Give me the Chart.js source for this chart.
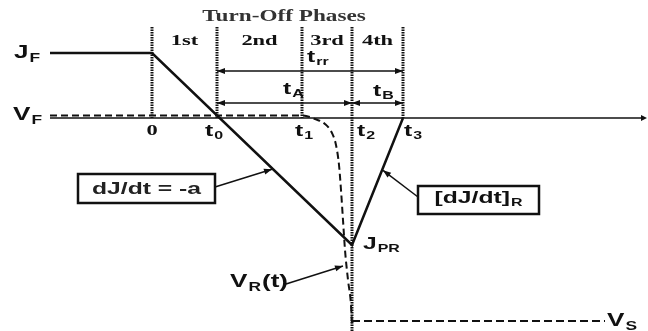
<!DOCTYPE html>
<html>
<head>
<meta charset="utf-8">
<script src="https://cdn.jsdelivr.net/npm/chart.js@4/dist/chart.umd.min.js"></script>
<style>
  html, body { margin: 0; padding: 0; background: #fff; }
  #wrap { width: 648px; height: 331px; }
</style>
</head>
<body>
<div id="wrap"><canvas id="turnOff" width="648" height="331"></canvas></div>
<script>
// time instants (arbitrary units, 0 = start of turn-off)
const markTimes = [0, 6.5, 15, 20, 25.1];
const markNames = ["0", "t0", "t1", "t2", "t3"];
const phaseNames = ["1st", "2nd", "3rd", "4th"];

// diode current J(t)
const currentTime = [-10.2, 0, 20, 25.1];
const currentValue = [6.5, 6.5, -12.7, 0];

// diode voltage: forward drop, then reverse swing
const voltageTime = [-10.2, 15, 16.3, 17.3, 18, 18.4, 18.7, 18.9, 19.1, 19.3, 19.6, 19.9, 20];
const voltageValue = [0.25, 0.25, -0.1, -0.6, -1.5, -2.7, -4.7, -7.2, -10.2, -13.2, -16.2, -18.7, -20.7];

// supply voltage once recovered
const supplyTime = [20, 45.3];
const supplyValue = [-20.3, -20.3];

const axisEnd = 49.3;
const guideTop = 9.1;
const trrLevel = 4.7;
const tabLevel = 1.5;

const INK = "#111";
const SX = 1.45; // lettering is drawn a bit wide
const SANS = '"Liberation Sans", Arial, sans-serif';
const SERIF = '"Liberation Serif", "Times New Roman", serif';

const toPoints = (xs, ys) => xs.map((x, i) => ({ x: x, y: ys[i] }));

function line(points, width, dash) {
  return {
    data: points,
    showLine: true,
    borderColor: INK,
    borderWidth: width,
    borderDash: dash || [],
    pointRadius: 0,
    fill: false,
    clip: false,
  };
}

const guides = markTimes.map((t, i) =>
  line([{ x: t, y: guideTop }, { x: t, y: i === 3 ? -21.3 : 0 }], 3, [1.5, 1])
);

const voltage = line(toPoints(voltageTime, voltageValue), 2, [7, 4]);
voltage.cubicInterpolationMode = "monotone";

const datasets = [
  line(toPoints(currentTime, currentValue), 2.5),
  voltage,
  line(toPoints(supplyTime, supplyValue), 2, [8, 4]),
  line([{ x: currentTime[0], y: 0 }, { x: axisEnd, y: 0 }], 1.5),
  ...guides,
];

function text(ctx, str, x, y, font, align, color) {
  ctx.save();
  ctx.font = font;
  const w = ctx.measureText(str).width * SX;
  const left = align === "center" ? x - w / 2 : align === "right" ? x - w : x;
  ctx.translate(left, y);
  ctx.scale(SX, 1);
  ctx.fillStyle = color || INK;
  ctx.textAlign = "left";
  ctx.textBaseline = "middle";
  ctx.fillText(str, 0, 0);
  ctx.restore();
  return w;
}

// main letter(s) with a subscript, optional trailing text
function subText(ctx, main, sub, x, y, size, align, tail) {
  const mainFont = `bold ${size}px ${SANS}`;
  const subFont = `bold ${Math.round(size * 0.66)}px ${SANS}`;
  ctx.font = mainFont;
  const wm = ctx.measureText(main).width * SX;
  const wt = tail ? ctx.measureText(tail).width * SX : 0;
  ctx.font = subFont;
  const ws = ctx.measureText(sub).width * SX;
  const total = wm + ws + wt + 1;
  const left = align === "center" ? x - total / 2 : x;
  text(ctx, main, left, y, mainFont, "left");
  text(ctx, sub, left + wm + 1, y + size * 0.3, subFont, "left");
  if (tail) text(ctx, tail, left + wm + ws + 2, y, mainFont, "left");
}

function arrowHead(ctx, x1, y1, x2, y2, len, half) {
  const a = Math.atan2(y2 - y1, x2 - x1);
  const c = Math.cos(a), s = Math.sin(a);
  ctx.beginPath();
  ctx.moveTo(x2, y2);
  ctx.lineTo(x2 - len * c + half * s, y2 - len * s - half * c);
  ctx.lineTo(x2 - len * c - half * s, y2 - len * s + half * c);
  ctx.closePath();
  ctx.fill();
}

function arrow(ctx, x1, y1, x2, y2, width, both) {
  ctx.lineWidth = width;
  ctx.beginPath();
  ctx.moveTo(x1, y1);
  ctx.lineTo(x2, y2);
  ctx.stroke();
  arrowHead(ctx, x1, y1, x2, y2, 8, 3);
  if (both) arrowHead(ctx, x2, y2, x1, y1, 8, 3);
}

function currentAt(t) {
  for (let i = 1; i < currentTime.length; i++) {
    if (t <= currentTime[i]) {
      const f = (t - currentTime[i - 1]) / (currentTime[i] - currentTime[i - 1]);
      return currentValue[i - 1] + f * (currentValue[i] - currentValue[i - 1]);
    }
  }
  return currentValue[currentValue.length - 1];
}

const annotations = {
  id: "annotations",
  afterDatasetsDraw(chart) {
    const ctx = chart.ctx;
    const xs = chart.scales.x, ys = chart.scales.y;
    const px = (v) => xs.getPixelForValue(v);
    const py = (v) => ys.getPixelForValue(v);
    ctx.save();
    ctx.strokeStyle = INK;
    ctx.fillStyle = INK;

    // time axis arrow
    arrowHead(ctx, px(0), py(0), px(axisEnd) + 2, py(0), 6, 3);

    // trr, tA, tB spans
    arrow(ctx, px(markTimes[1]), py(trrLevel), px(markTimes[4]), py(trrLevel), 1.5, true);
    arrow(ctx, px(markTimes[1]), py(tabLevel), px(markTimes[3]), py(tabLevel), 1.5, true);
    arrow(ctx, px(markTimes[3]), py(tabLevel), px(markTimes[4]), py(tabLevel), 1.5, true);

    // header and phase names
    text(ctx, "Turn-Off Phases", 284, 17, `bold 16px ${SERIF}`, "center", "#333");
    phaseNames.forEach((p, i) => {
      const mid = (markTimes[i] + markTimes[i + 1]) / 2;
      text(ctx, p, px(mid), 41, `bold 15.5px ${SERIF}`, "center", "#111");
    });

    // time marks under the axis
    const y0 = py(0);
    text(ctx, markNames[0], px(markTimes[0]), y0 + 13, `bold 15.5px ${SERIF}`, "center");
    const nudge = [0, -12, -7, 5, 1];
    for (let i = 1; i < markNames.length; i++) {
      subText(ctx, "t", markNames[i].slice(1), px(markTimes[i]) + nudge[i], y0 + 13, 17, "left");
    }

    // span labels
    subText(ctx, "t", "rr", px(markTimes[2]) + 5, py(trrLevel) - 14, 17, "left");
    subText(ctx, "t", "A", px(markTimes[2]) - 19, py(tabLevel) - 14, 17, "left");
    subText(ctx, "t", "B", px(markTimes[3]) + 21, py(tabLevel) - 12, 17, "left");

    // level names
    subText(ctx, "J", "F", 14, py(currentValue[0]), 18, "left");
    subText(ctx, "V", "F", 13, py(voltageValue[0]), 18, "left");
    subText(ctx, "J", "PR", px(markTimes[3]) + 11, py(currentValue[2]) - 1, 17, "left");
    subText(ctx, "V", "S", px(supplyTime[1]) + 2, py(supplyValue[0]), 18, "left");

    // falling slope callout
    const tipA = { x: px(12), y: py(currentAt(12)) + 1 };
    ctx.lineWidth = 2.5;
    ctx.strokeRect(78, 174, 137, 29);
    text(ctx, "dJ/dt = -a", 146.5, 189, `bold 17px ${SANS}`, "center", "#222");
    arrow(ctx, 215, 187, tipA.x, tipA.y, 1.5);

    // recovery slope callout
    const tipB = { x: px(23), y: py(currentAt(23)) };
    ctx.lineWidth = 2.5;
    ctx.strokeRect(418, 186, 121, 28);
    subText(ctx, "[dJ/dt]", "R", 478.5, 198, 17, "center");
    arrow(ctx, 418, 197, tipB.x + 1, tipB.y, 1.5);

    // reverse voltage callout
    subText(ctx, "V", "R", 230, 282, 18, "left", "(t)");
    arrow(ctx, 286, 284, px(19.1), 266, 1.5);

    ctx.restore();
  },
};

new Chart(document.getElementById("turnOff"), {
  type: "scatter",
  data: { datasets: datasets },
  options: {
    responsive: false,
    animation: false,
    layout: { padding: 0 },
    plugins: { legend: { display: false }, tooltip: { enabled: false } },
    scales: {
      x: { type: "linear", min: -15.2, max: 49.6, display: false },
      y: { type: "linear", min: -21.3, max: 11.8, display: false },
    },
  },
  plugins: [annotations],
});
</script>
</body>
</html>
